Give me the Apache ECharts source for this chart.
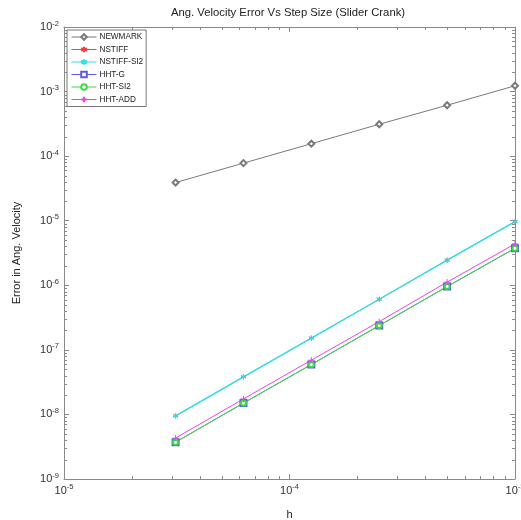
<!DOCTYPE html>
<html>
<head>
<meta charset="utf-8">
<script src="https://cdn.jsdelivr.net/npm/echarts@6/dist/echarts.min.js"></script>
<style>
  html, body { margin: 0; padding: 0; background: #fff; }
  #container { width: 521px; height: 520px; }
</style>
</head>
<body>
<div id="container"></div>
<script>
var dom = document.getElementById('container');
var myChart = echarts.init(dom, null, { renderer: 'canvas' });

// step sizes h
const stepSizes = [3.125e-5, 6.25e-5, 1.25e-4, 2.5e-4, 5e-4, 1e-3];

// errors in angular velocity
const newmark   = [3.9e-5, 7.8e-5, 1.56e-4, 3.12e-4, 6.14e-4, 1.23e-3];
const nstiff    = [9.5e-9, 3.82e-8, 1.52e-7, 6.09e-7, 2.45e-6, 9.7e-6];
const nstiffSi2 = [9.5e-9, 3.82e-8, 1.52e-7, 6.09e-7, 2.45e-6, 9.7e-6];
const hhtG      = [3.72e-9, 1.50e-8, 5.93e-8, 2.38e-7, 9.55e-7, 3.75e-6];
const hhtSi2    = [3.72e-9, 1.50e-8, 5.93e-8, 2.38e-7, 9.55e-7, 3.75e-6];
const hhtAdd    = [4.3e-9, 1.74e-8, 6.93e-8, 2.74e-7, 1.12e-6, 4.38e-6];

const seriesNames = ['NEWMARK', 'NSTIFF', 'NSTIFF-SI2', 'HHT-G', 'HHT-SI2', 'HHT-ADD'];

// axis ranges and minor tick mantissas
const xMin = 1e-5, xMax = 1e-3;
const yMin = 1e-9, yMax = 1e-2;
const mantissas = [2, 3, 4, 5, 6, 7, 8, 9];
const xDecades = [-5, -4];
const yDecades = [-9, -8, -7, -6, -5, -4, -3];

const axisColor = '#8a8a8a';
const fontFamily = 'Liberation Sans, Arial, sans-serif';

const starPath = 'path://M0,-5L0,5M-4.3,-2.5L4.3,2.5M-4.3,2.5L4.3,-2.5';
const plusPath = 'path://M0,-5L0,5M-5,0L5,0';

function pairs(ys) {
  return stepSizes.map((h, i) => [h, ys[i]]);
}

function minorValues(decades) {
  var out = [];
  decades.forEach(d => mantissas.forEach(m => out.push(m * Math.pow(10, d))));
  return out;
}

function powLabel(value) {
  var e = Math.round(Math.log10(value));
  return '{b|10}{s|' + e + '}';
}

const richLabel = {
  b: { fontSize: 11, fontFamily: fontFamily, color: '#333' },
  s: { fontSize: 7.5, fontFamily: fontFamily, color: '#333', padding: [0, 0, 7, 0] }
};

function lineSeries(name, ys, color, symbol, size, width) {
  return {
    name: name,
    type: 'line',
    data: pairs(ys),
    symbol: symbol,
    symbolSize: size,
    showSymbol: true,
    lineStyle: { color: color, width: width || 1 },
    itemStyle: { color: color, borderColor: color, borderWidth: 1 },
    emphasis: { disabled: true },
    animation: false
  };
}

function minorTicks(axis) {
  var vals = axis === 'x' ? minorValues(xDecades) : minorValues(yDecades);
  return {
    type: 'custom',
    silent: true,
    clip: false,
    animation: false,
    data: vals.map(v => axis === 'x' ? [v, 1e-5] : [1e-4, v]),
    renderItem: function (params, api) {
      var cs = params.coordSys;
      var p = api.coord([api.value(0), api.value(1)]);
      var st = { stroke: axisColor, lineWidth: 1 };
      if (axis === 'x') {
        var x = Math.round(p[0]) + 0.5;
        return { type: 'group', children: [
          { type: 'line', shape: { x1: x, y1: cs.y + cs.height, x2: x, y2: cs.y + cs.height - 3 }, style: st },
          { type: 'line', shape: { x1: x, y1: cs.y, x2: x, y2: cs.y + 3 }, style: st }
        ]};
      }
      var y = Math.round(p[1]) + 0.5;
      return { type: 'group', children: [
        { type: 'line', shape: { x1: cs.x, y1: y, x2: cs.x + 3, y2: y }, style: st },
        { type: 'line', shape: { x1: cs.x + cs.width, y1: y, x2: cs.x + cs.width - 3, y2: y }, style: st }
      ]};
    }
  };
}

var option = {
  backgroundColor: '#fff',
  animation: false,
  title: {
    text: 'Ang. Velocity Error Vs Step Size (Slider Crank)',
    left: 283,
    top: 2,
    textAlign: 'center',
    textStyle: { fontSize: 11.3, fontWeight: 'normal', color: '#222', fontFamily: fontFamily }
  },
  grid: { left: 64, right: 6, top: 27, bottom: 41, containLabel: false, outerBoundsMode: 'none' },
  legend: {
    data: seriesNames,
    orient: 'vertical',
    left: 67,
    top: 30,
    itemWidth: 25,
    itemHeight: 7,
    itemGap: 4.5,
    padding: [3, 3, 3, 4],
    backgroundColor: '#fff',
    borderColor: '#777',
    borderWidth: 1,
    lineStyle: { width: 1 },
    textStyle: { fontSize: 8.2, color: '#222', fontFamily: fontFamily, padding: [0, 0, 0, -2] }
  },
  xAxis: [{
    type: 'log',
    logBase: 10,
    min: xMin,
    max: xMax,
    position: 'bottom',
    name: 'h',
    nameLocation: 'middle',
    nameGap: 30,
    nameTextStyle: { fontSize: 11, color: '#222', fontFamily: fontFamily },
    axisLine: { show: true, lineStyle: { color: axisColor, width: 1 } },
    axisTick: { show: true, inside: true, length: 5, lineStyle: { color: axisColor } },
    axisLabel: { formatter: powLabel, rich: richLabel, margin: 4 },
    splitLine: { show: false }
  }, {
    type: 'log',
    logBase: 10,
    min: xMin,
    max: xMax,
    position: 'top',
    axisLine: { show: true, lineStyle: { color: axisColor, width: 1 } },
    axisTick: { show: true, inside: true, length: 5, lineStyle: { color: axisColor } },
    axisLabel: { show: false },
    splitLine: { show: false }
  }],
  yAxis: [{
    type: 'log',
    logBase: 10,
    min: yMin,
    max: yMax,
    splitNumber: 7,
    position: 'left',
    name: 'Error in Ang. Velocity',
    nameLocation: 'middle',
    nameGap: 42,
    nameTextStyle: { fontSize: 11, color: '#222', fontFamily: fontFamily },
    axisLine: { show: true, lineStyle: { color: axisColor, width: 1 } },
    axisTick: { show: true, inside: true, length: 5, lineStyle: { color: axisColor } },
    axisLabel: { formatter: powLabel, rich: richLabel, margin: 5 },
    splitLine: { show: false }
  }, {
    type: 'log',
    logBase: 10,
    min: yMin,
    max: yMax,
    splitNumber: 7,
    position: 'right',
    axisLine: { show: true, lineStyle: { color: axisColor, width: 1 } },
    axisTick: { show: true, inside: true, length: 5, lineStyle: { color: axisColor } },
    axisLabel: { show: false },
    splitLine: { show: false }
  }],
  series: [
    minorTicks('x'),
    minorTicks('y'),
    lineSeries('NEWMARK', newmark, '#7a7a7a', 'emptyDiamond', 6),
    lineSeries('NSTIFF', nstiff, '#ff3b3b', starPath, 5, 0.8),
    lineSeries('NSTIFF-SI2', nstiffSi2, '#22e4ec', starPath, 5, 1.3),
    lineSeries('HHT-G', hhtG, '#5a5ae8', 'emptyRect', 6),
    lineSeries('HHT-SI2', hhtSi2, '#3fdc3f', 'emptyCircle', 5),
    lineSeries('HHT-ADD', hhtAdd, '#f040f0', plusPath, 6)
  ]
};

myChart.setOption(option);
window.addEventListener('resize', myChart.resize);
</script>
</body>
</html>
